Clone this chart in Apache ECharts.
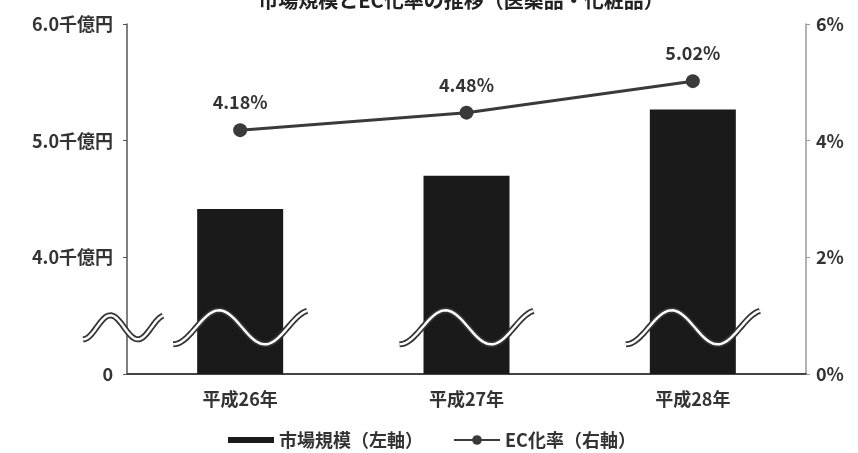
<!DOCTYPE html>
<html>
<head>
<meta charset="utf-8">
<script src="https://cdn.jsdelivr.net/npm/echarts@6/dist/echarts.min.js"></script>
<style>
  html, body { margin: 0; padding: 0; background: #fff; }
  #chart { width: 858px; height: 453px; }
</style>
</head>
<body>
<div id="chart"></div>
<script>
// data
var categories = ['平成26年', '平成27年', '平成28年']
var marketSize = [4.415, 4.699, 5.268]   // 千億円
var ecRate = [4.18, 4.48, 5.02]          // %
var leftTicks = [3, 4, 5, 6]             // 3 is shown as "0" (broken axis)
var rightTicks = [0, 2, 4, 6]

var FONT = '"Noto Sans CJK JP", "Noto Sans", sans-serif'
var TXT = '#333'

var chart = echarts.init(document.getElementById('chart'))

var option = {
  animation: false,
  textStyle: { fontFamily: FONT },
  title: {
    text: '市場規模とEC化率の推移（医薬品・化粧品）',
    left: 456,
    textAlign: 'center',
    top: -15,
    textStyle: { fontSize: 20, fontWeight: 'bold', color: '#222', fontFamily: FONT }
  },
  grid: { left: 127, right: 52, top: 24, bottom: 79 },
  legend: {
    bottom: -1,
    left: 223,
    itemGap: 30,
    textStyle: { fontSize: 18, fontWeight: 'bold', color: TXT, fontFamily: FONT },
    data: [
      // thin bar swatch inside a taller legend box
      { name: '市場規模（左軸）', icon: 'path://M0,0M0,12M0,3L46,3L46,9L0,9Z', itemStyle: { color: '#1a1a1a' } },
      { name: 'EC化率（右軸）' }
    ],
    itemWidth: 46,
    itemHeight: 12
  },
  xAxis: {
    type: 'category',
    data: categories,
    axisLine: { lineStyle: { color: '#444', width: 2 } },
    axisTick: { show: false },
    axisLabel: { fontSize: 18, fontWeight: 'bold', color: TXT, margin: 16, fontFamily: FONT }
  },
  yAxis: [
    {
      type: 'value',
      min: 3,
      max: 6,
      interval: 1,
      splitLine: { show: false },
      axisLine: { show: true, lineStyle: { color: '#555', width: 1.5 } },
      axisTick: { show: true, length: 4, lineStyle: { color: '#555' } },
      axisLabel: {
        fontSize: 18, fontWeight: 'bold', color: TXT, margin: 14, fontFamily: FONT,
        formatter: function (v) {
          return v === leftTicks[0] ? '0' : v.toFixed(1) + '千億円'
        }
      }
    },
    {
      type: 'value',
      min: rightTicks[0],
      max: rightTicks[rightTicks.length - 1],
      interval: 2,
      splitLine: { show: false },
      axisLine: { show: true, lineStyle: { color: '#999', width: 1.5 } },
      axisTick: { show: true, length: 4, lineStyle: { color: '#999' } },
      axisLabel: { fontSize: 18, fontWeight: 'bold', color: TXT, margin: 10, fontFamily: FONT, formatter: '{value}%' }
    }
  ],
  series: [
    {
      name: '市場規模（左軸）',
      type: 'bar',
      yAxisIndex: 0,
      barWidth: 86,
      clip: true,
      itemStyle: { color: '#1a1a1a' },
      data: marketSize
    },
    {
      name: 'EC化率（右軸）',
      type: 'line',
      yAxisIndex: 1,
      symbol: 'circle',
      symbolSize: 14,
      lineStyle: { color: '#3a3a3a', width: 3 },
      itemStyle: { color: '#3a3a3a' },
      label: {
        show: true,
        position: 'top',
        distance: 12,
        fontSize: 18,
        fontWeight: 'bold',
        color: TXT,
        fontFamily: FONT,
        formatter: function (p) { return p.value.toFixed(2) + '%' }
      },
      data: ecRate
    }
  ]
}

chart.setOption(option)

// broken-axis wave marks, placed from the chart's own scales
function wave (x0, width, yc, amp) {
  var pts = []
  var period = width / 1.46
  for (var i = 0; i <= 60; i++) {
    var x = x0 + width * i / 60
    var ph = 2 * Math.PI * (x - x0) / period - Math.PI / 2
    pts.push([x, yc - amp * Math.sin(ph)])
  }
  return pts
}

function breakMark (pts) {
  return [
    { type: 'polyline', z: 100, shape: { points: pts }, style: { stroke: '#333', lineWidth: 6, fill: null } },
    { type: 'polyline', z: 101, shape: { points: pts }, style: { stroke: '#fff', lineWidth: 2.5, fill: null } }
  ]
}

var cx = categories.map(function (c) { return chart.convertToPixel({ xAxisIndex: 0 }, c) })
var band = cx[1] - cx[0]
var axisX = cx[0] - band / 2
var yc = chart.convertToPixel({ yAxisIndex: 0 }, 3.4)

var els = []
els = els.concat(breakMark(wave(axisX - 44, 80, yc, 12)))
cx.forEach(function (x) {
  els = els.concat(breakMark(wave(x - 67, 134, yc, 17)))
})
chart.setOption({ graphic: els })
</script>
</body>
</html>
